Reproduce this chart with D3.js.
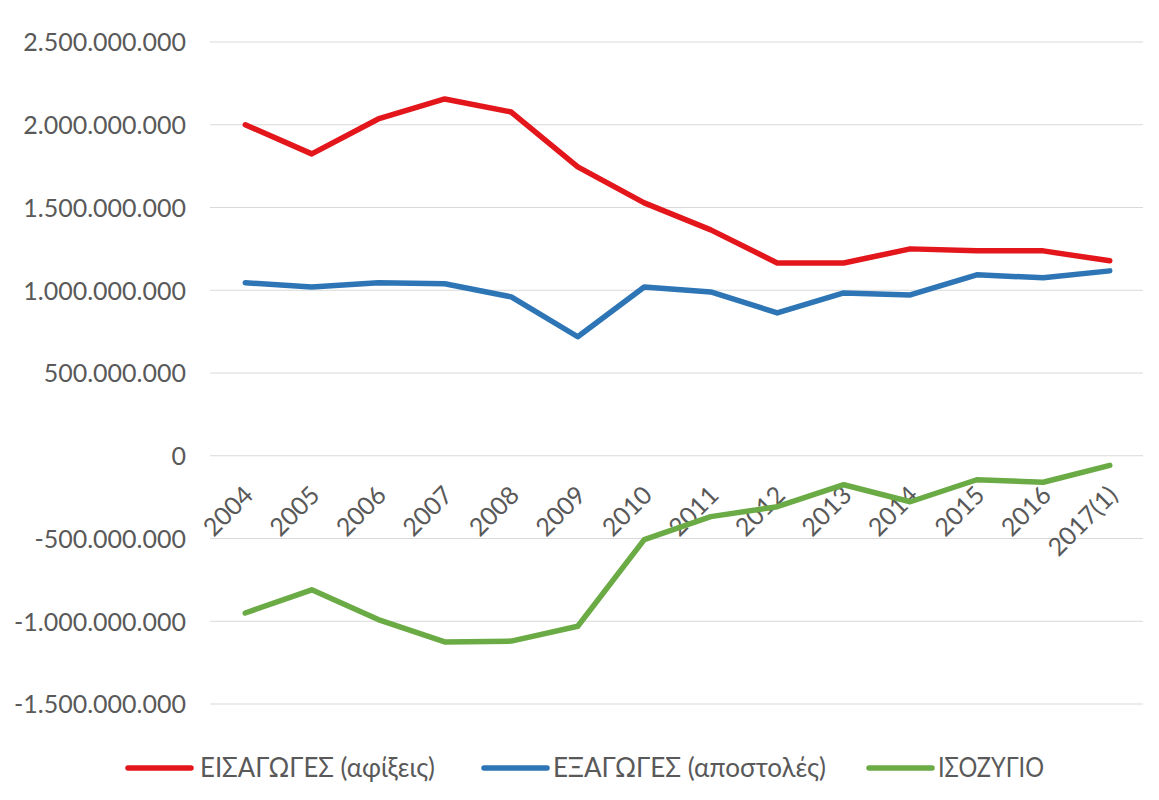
<!DOCTYPE html>
<html>
<head>
<meta charset="utf-8">
<script src="https://cdn.jsdelivr.net/npm/d3@7"></script>
<style>
  body { margin: 0; background: #fff; }
  text { font-family: Lato, "Noto Sans", sans-serif; fill: #595959; }
</style>
</head>
<body>
<div id="chart"></div>
<script>
// Data
const years = ["2004", "2005", "2006", "2007", "2008", "2009", "2010", "2011", "2012", "2013", "2014", "2015", "2016", "2017(1)"]
const imports = [2000e6, 1824e6, 2035e6, 2156e6, 2077e6, 1745e6, 1528e6, 1365e6, 1165e6, 1165e6, 1250e6, 1238e6, 1238e6, 1178e6]
const exports = [1045e6, 1020e6, 1045e6, 1039e6, 960e6, 719e6, 1020e6, 990e6, 863e6, 984e6, 972e6, 1093e6, 1075e6, 1117e6]
const balance = [-950e6, -810e6, -990e6, -1125e6, -1120e6, -1030e6, -507e6, -368e6, -308e6, -175e6, -278e6, -145e6, -160e6, -58e6]
const yTicks = [-1.5e9, -1e9, -0.5e9, 0, 0.5e9, 1e9, 1.5e9, 2e9, 2.5e9]
const seriesNames = ["ΕΙΣΑΓΩΓΕΣ (αφίξεις)", "ΕΞΑΓΩΓΕΣ (αποστολές)", "ΙΣΟΖΥΓΙΟ"]
const seriesColors = ["#e3161c", "#2e75b6", "#6aab45"]

// Dimensions
const dimensions = {
  width: 1159,
  height: 800,
  left: 210,
  right: 1143,
  top: 42,
  bottom: 704
}

const svg = d3.select('#chart')
  .append("svg")
  .attr("width", dimensions.width)
  .attr("height", dimensions.height)

const xScale = d3.scalePoint()
  .domain(years)
  .range([dimensions.left + 2, dimensions.right])
  .padding(0.5)

const yScale = d3.scaleLinear()
  .domain([-1.5e9, 2.5e9])
  .range([dimensions.bottom, dimensions.top])

const fmt = v => d3.format(",")(v).replace(/,/g, ".").replace("−", "-")

// Gridlines
svg.append("g")
  .selectAll("line")
  .data(yTicks)
  .join("line")
  .attr("x1", dimensions.left)
  .attr("x2", dimensions.right)
  .attr("y1", d => yScale(d))
  .attr("y2", d => yScale(d))
  .attr("stroke", "#d9d9d9")
  .attr("stroke-width", 1.2)

// Y axis
const yAxis = d3.axisLeft(yScale)
  .tickValues(yTicks)
  .tickSize(0)
  .tickPadding(0)
  .tickFormat(fmt)

svg.append("g")
  .attr("transform", `translate(${dimensions.left - 24}, 0)`)
  .call(yAxis)
  .call(g => g.select(".domain").remove())
  .selectAll("text")
  .attr("font-family", null)
  .attr("font-size", 25)
  .attr("fill", "#5f5f5f")
  .attr("dy", "0.35em")

// X axis at zero
const xAxis = d3.axisBottom(xScale).tickSize(0)

svg.append("g")
  .attr("transform", `translate(0, ${yScale(0)})`)
  .call(xAxis)
  .call(g => g.select(".domain").remove())
  .selectAll("text")
  .attr("font-family", null)
  .attr("font-size", 25)
  .attr("fill", "#5f5f5f")
  .attr("x", 0)
  .attr("y", 0)
  .attr("dy", 0)
  .attr("text-anchor", "end")
  .attr("transform", "translate(9, 41) rotate(-45)")

// Lines
const line = d3.line()
  .x((d, i) => xScale(years[i]))
  .y(d => yScale(d))

const allSeries = [imports, exports, balance]

svg.append("g")
  .selectAll("path")
  .data(allSeries)
  .join("path")
  .attr("d", d => line(d))
  .attr("fill", "none")
  .attr("stroke", (d, i) => seriesColors[i])
  .attr("stroke-width", 5.5)
  .attr("stroke-linejoin", "round")
  .attr("stroke-linecap", "round")

// Legend
const legendX = [128, 484, 869]
const legendTextLen = [235, 273, 106]
const legendY = 768

const legend = svg.append("g")
  .selectAll("g")
  .data(seriesNames)
  .join("g")
  .attr("transform", (d, i) => `translate(${legendX[i]}, ${legendY})`)

legend.append("line")
  .attr("x1", 0)
  .attr("x2", 63)
  .attr("stroke", (d, i) => seriesColors[i])
  .attr("stroke-width", 5.5)
  .attr("stroke-linecap", "round")

legend.append("text")
  .attr("x", (d, i) => i === 0 ? 72 : 69)
  .attr("dy", "0.36em")
  .attr("font-size", 26)
  .attr("fill", "#5f5f5f")
  .attr("textLength", (d, i) => legendTextLen[i])
  .attr("lengthAdjust", "spacingAndGlyphs")
  .text(d => d)
</script>
</body>
</html>
